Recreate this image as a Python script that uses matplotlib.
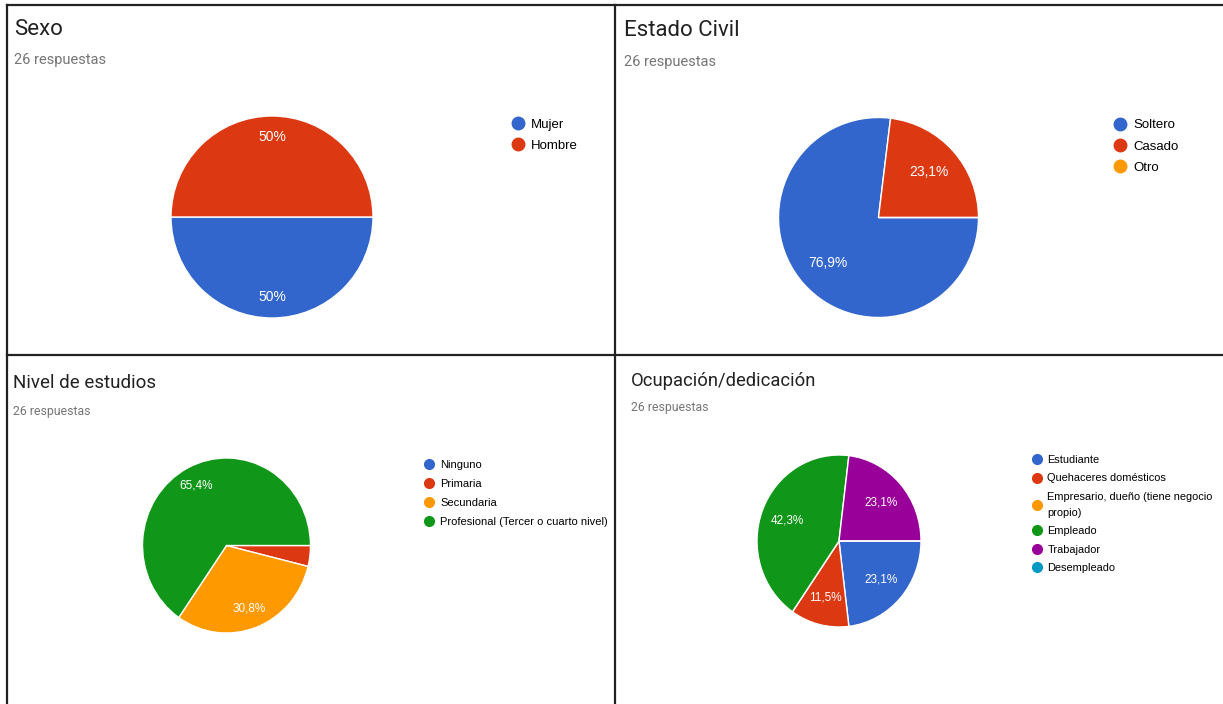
import matplotlib
matplotlib.use("Agg")
import matplotlib.pyplot as plt
from matplotlib.lines import Line2D

W, H = 1223, 704

# --- data (answer counts, 26 respuestas) ---
sexo_labels = ["Mujer", "Hombre"]
sexo_counts = [13, 13]

civil_labels = ["Soltero", "Casado", "Otro"]
civil_counts = [20, 6, 0]

estudios_labels = ["Ninguno", "Primaria", "Secundaria", "Profesional (Tercer o cuarto nivel)"]
estudios_counts = [0, 1, 8, 17]

ocup_labels = ["Estudiante", "Quehaceres domésticos",
               "Empresario, dueño (tiene negocio\npropio)",
               "Empleado", "Trabajador", "Desempleado"]
ocup_counts = [6, 3, 0, 11, 6, 0]

palette = ["#3366cc", "#dc3912", "#ff9900", "#109618", "#990099", "#0099c6"]

fig = plt.figure(figsize=(W / 100, H / 100), dpi=100)
fig.patch.set_facecolor("white")


def px_axes(cx, cy, rx, ry):
    # axes box in pixel coords (origin top-left)
    return fig.add_axes([(cx - rx) / W, (H - cy - ry) / H, 2 * rx / W, 2 * ry / H])


def pct_fmt(p):
    if p < 5:
        return ""
    s = f"{p:.1f}".replace(".", ",")
    if s.endswith(",0"):
        s = s[:-2]
    return s + "%"


def draw_panel(title, tx, tby, sby, tsize, ssize, counts, labels,
               cx, cy, rx, ry, pctdist, pctsize,
               lx, lcy, lsize, lspacing, lpad, msize):
    fig.text(tx / W, 1 - tby / H, title, fontsize=tsize, family="Roboto",
             color="#212121", va="baseline", ha="left")
    fig.text(tx / W, 1 - sby / H, "26 respuestas", fontsize=ssize, family="Roboto",
             color="#757575", va="baseline", ha="left")
    ax = px_axes(cx, cy, rx, ry)
    colors = palette[:len(counts)]
    wedges, _, autotexts = ax.pie(counts, colors=colors, startangle=0, counterclock=False,
                                  autopct=pct_fmt, pctdistance=pctdist,
                                  wedgeprops=dict(edgecolor="white", linewidth=1))
    for t in autotexts:
        t.set_color("white")
        t.set_fontsize(pctsize)
        t.set_family("Liberation Sans")
    ax.set_xlim(-1, 1)
    ax.set_ylim(-1, 1)
    ax.set_aspect("auto")
    handles = [Line2D([], [], marker="o", linestyle="", markersize=msize,
                      markerfacecolor=c, markeredgecolor=c) for c in colors]
    hl = 0.8
    leg = fig.legend(handles, labels, loc="center left",
                     bbox_to_anchor=((lx - hl * lsize * 100 / 72 / 2) / W, 1 - lcy / H),
                     frameon=False, borderpad=0, borderaxespad=0,
                     handlelength=hl, handletextpad=lpad, labelspacing=lspacing,
                     prop=dict(family="Liberation Sans", size=lsize))
    for t in leg.get_texts():
        t.set_linespacing(1.7)


draw_panel("Sexo", 14, 35, 64, 16, 10.5, sexo_counts, sexo_labels,
           272, 217, 101, 101, 0.79, 10,
           518, 135, 9.5, 0.68, 0.58, 9)
draw_panel("Estado Civil", 624, 36, 66, 16, 10.5, civil_counts, civil_labels,
           878.5, 217.5, 100, 100, 0.68, 10,
           1120, 146.5, 9.5, 0.68, 0.58, 9)
draw_panel("Nivel de estudios", 13, 388, 415, 13.5, 8.8, estudios_counts, estudios_labels,
           226.5, 545.5, 84, 87.5, 0.77, 8.5,
           429, 493.5, 8, 0.8, 0.62, 7)
draw_panel("Ocupación/dedicación", 631, 386, 411, 13.2, 8.8, ocup_counts, ocup_labels,
           839, 541, 82, 86, 0.68, 8.5,
           1037, 514, 7.9, 0.78, 0.55, 7)

# panel borders
border = dict(color="#222222", linewidth=1.6)
fig.add_artist(Line2D([7 / W, 1], [1 - 5 / H, 1 - 5 / H], **border))
fig.add_artist(Line2D([7 / W, 7 / W], [0, 1 - 5 / H], **border))
fig.add_artist(Line2D([615 / W, 615 / W], [0, 1 - 5 / H], **border))
fig.add_artist(Line2D([7 / W, 1], [1 - 355 / H, 1 - 355 / H], **border))

fig.savefig("out.png", dpi=100)
